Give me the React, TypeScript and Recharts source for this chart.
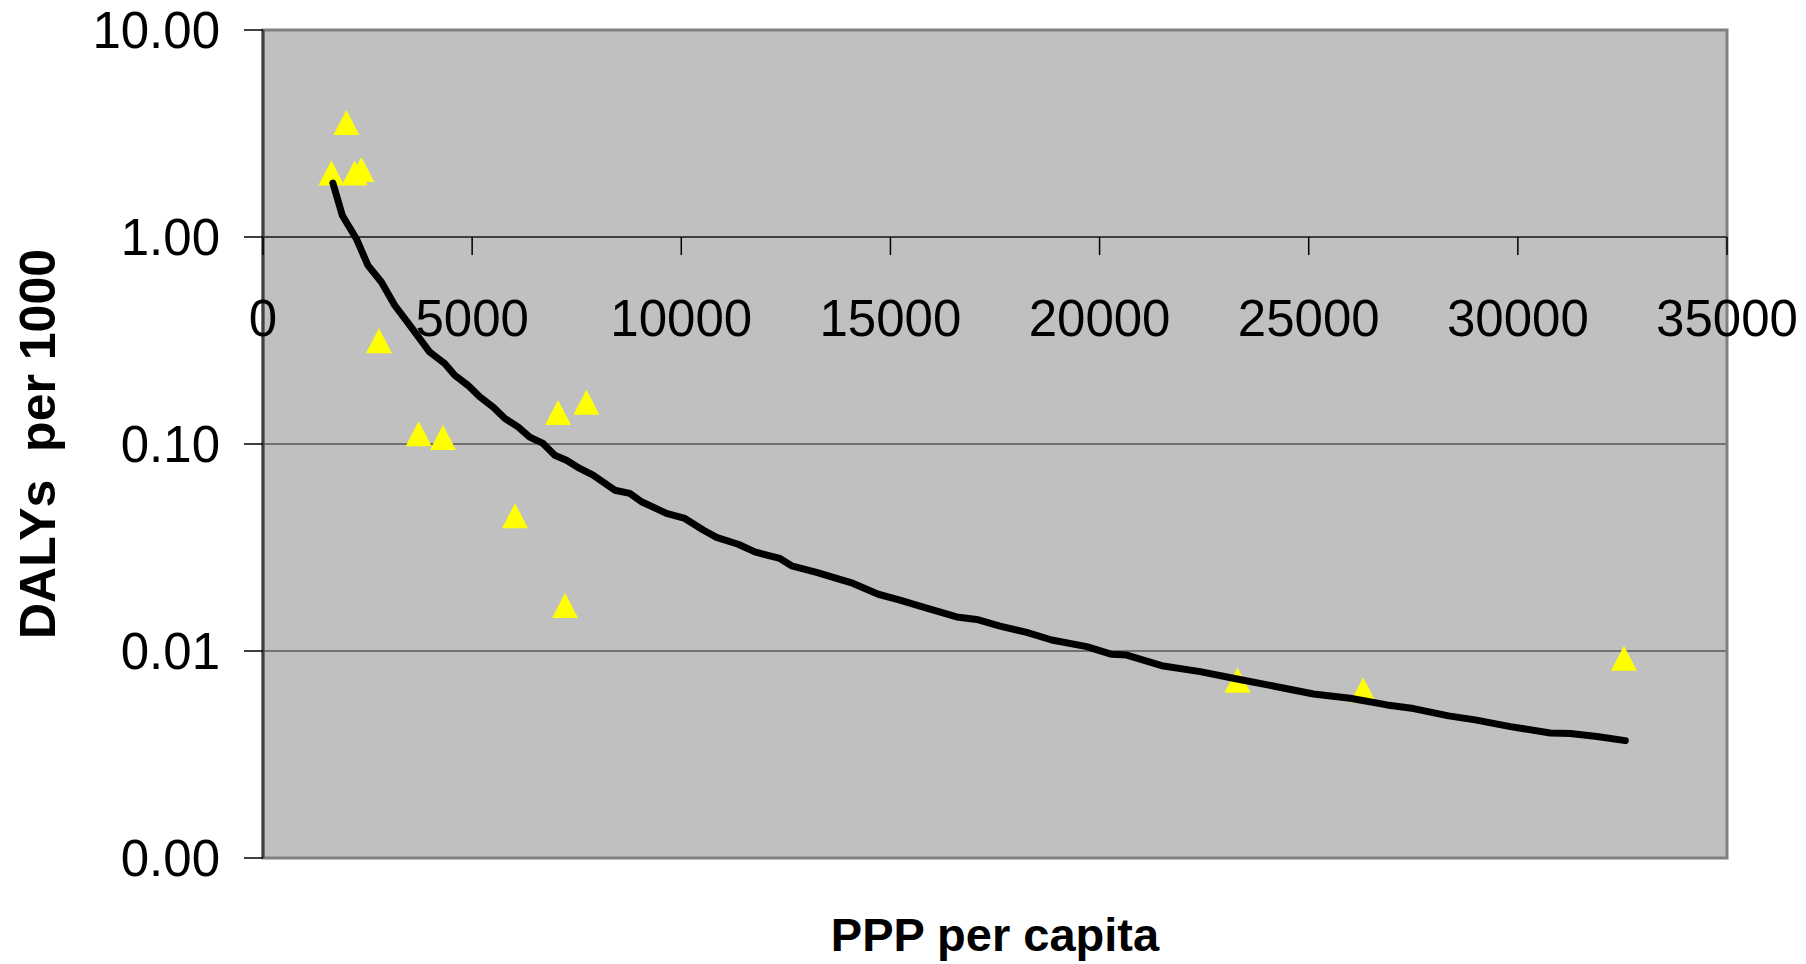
import React from "react";
import { ScatterChart, Scatter, XAxis, YAxis, CartesianGrid, ReferenceArea, ReferenceLine } from "recharts";

// country points (PPP per capita, DALYs per 1000)
const countryPpp = [1634, 1993, 2191, 2351, 2772, 3722, 4303, 6025, 7054, 7733, 7221, 23298, 26302, 32536];
const countryDalys = [2.04, 3.57, 2.04, 2.12, 0.315, 0.112, 0.1076, 0.045, 0.142, 0.159, 0.0166, 0.00723, 0.00648, 0.00922];

// trend line
const trendPpp = [
  1672, 1897, 2232, 2509, 2830, 3148, 3507, 3985, 4344, 4584, 4901, 5181, 5499, 5779, 6097, 6377, 6695, 6975,
  7255, 7573, 7891, 8410, 8769, 9049, 9647, 10085, 10523, 10843, 11360, 11759, 12357, 12637, 13235, 14111,
  14709, 15228, 15866, 16584, 17062, 17620, 18258, 18856, 19693, 20291, 20650, 21487, 22404, 23320, 24238,
  25114, 25991, 26869, 27506, 28343, 28981, 29819, 30775, 31254, 31893, 32570,
];
const trendDalys = [
  1.82, 1.27, 0.981, 0.729, 0.606, 0.468, 0.375, 0.278, 0.245, 0.215, 0.192, 0.169, 0.151, 0.133, 0.121, 0.108,
  0.1006, 0.0883, 0.0835, 0.0762, 0.0707, 0.0598, 0.0577, 0.0526, 0.0462, 0.0437, 0.0384, 0.0354, 0.0328,
  0.0301, 0.028, 0.0258, 0.024, 0.0212, 0.0188, 0.0176, 0.0161, 0.0146, 0.0142, 0.0132, 0.0123, 0.0113, 0.0105,
  0.00964, 0.00956, 0.00849, 0.00795, 0.0073, 0.00672, 0.0062, 0.00591, 0.00549, 0.00527, 0.00486, 0.00465,
  0.00431, 0.00402, 0.00399, 0.00386, 0.00369,
];

const xTicks = [0, 5000, 10000, 15000, 20000, 25000, 30000, 35000];
const yTicks = [0.001, 0.01, 0.1, 1, 10];

const W = 1806;
const H = 964;
const MARGIN = { top: 30, right: 79, bottom: 0, left: 0 };
const Y_AXIS_W = 263;
const X_AXIS_H = 106;
const PLOT_H = H - MARGIN.top - MARGIN.bottom - X_AXIS_H;
const Y_MIN = 0.001;
const Y_MAX = 10;
const X_CROSS = 1; // x axis crosses the y axis at 1.00
const crossFrac = (Math.log10(X_CROSS) - Math.log10(Y_MIN)) / (Math.log10(Y_MAX) - Math.log10(Y_MIN));
const FONT = '"Liberation Sans", Arial, Helvetica, sans-serif';

const countries = countryPpp.map((x, i) => ({ x, y: countryDalys[i] }));
const trend = trendPpp.map((x, i) => ({ x, y: trendDalys[i] }));

function Triangle(props: any) {
  const { cx, cy } = props;
  const w = 26;
  const h = 25;
  return <path d={`M${cx},${cy - h / 2}L${cx + w / 2},${cy + h / 2}L${cx - w / 2},${cy + h / 2}Z`} fill="#FFFF00" />;
}

// x ticks drawn on the line y = 1 instead of the bottom of the plot
function CrossTick(props: any) {
  const { x, y, payload } = props;
  const yc = y - PLOT_H * crossFrac;
  return (
    <g>
      <line x1={x} x2={x} y1={yc} y2={yc + 18} stroke="#000" strokeWidth={1.5} />
      <text x={x} y={yc + 81} dy="0.355em" textAnchor="middle" fontSize={51} fill="#000" fontFamily={FONT}>
        {payload.value}
      </text>
    </g>
  );
}

export default function App() {
  return (
    <div style={{ position: "absolute", left: 0, top: 0, width: W, height: H, background: "#fff", fontFamily: FONT }}>
      <ScatterChart width={W} height={H} margin={MARGIN}>
        <CartesianGrid vertical={false} fill="#C0C0C0" stroke="#222" strokeWidth={1} />
        <ReferenceArea x1={0} x2={35000} y1={Y_MIN} y2={Y_MAX} fill="none" stroke="#808080" strokeWidth={3} />
        <XAxis
          type="number"
          dataKey="x"
          domain={[0, 35000]}
          ticks={xTicks}
          interval={0}
          height={X_AXIS_H}
          axisLine={false}
          tickLine={false}
          tickSize={0}
          tickMargin={0}
          tick={<CrossTick />}
          label={{ value: "PPP per capita", position: "insideBottom", offset: 13, style: { fontSize: 47, fontWeight: "bold", fill: "#000" } }}
        />
        <YAxis
          type="number"
          dataKey="y"
          scale="log"
          domain={[Y_MIN, Y_MAX]}
          allowDataOverflow
          ticks={yTicks}
          interval={0}
          width={Y_AXIS_W}
          tickSize={19}
          tickMargin={24}
          tickFormatter={(v: number) => v.toFixed(2)}
          tick={{ fontSize: 51, fill: "#000" }}
          tickLine={{ stroke: "#000", strokeWidth: 1.5 }}
          axisLine={{ stroke: "#404040", strokeWidth: 3 }}
          label={{
            value: "DALYs\u00a0 per 1000",
            angle: -90,
            position: "insideLeft",
            offset: 37,
            style: { textAnchor: "middle", fontSize: 50, fontWeight: "bold", fill: "#000" },
          }}
        />
        <ReferenceLine y={X_CROSS} stroke="#404040" strokeWidth={2} />
        <Scatter data={countries} shape={<Triangle />} isAnimationActive={false} />
        <Scatter
          data={trend}
          fill="#000"
          line={{ stroke: "#000", strokeWidth: 7, strokeLinecap: "round", strokeLinejoin: "round" }}
          lineType="joint"
          shape={() => <g />}
          isAnimationActive={false}
        />
      </ScatterChart>
    </div>
  );
}
